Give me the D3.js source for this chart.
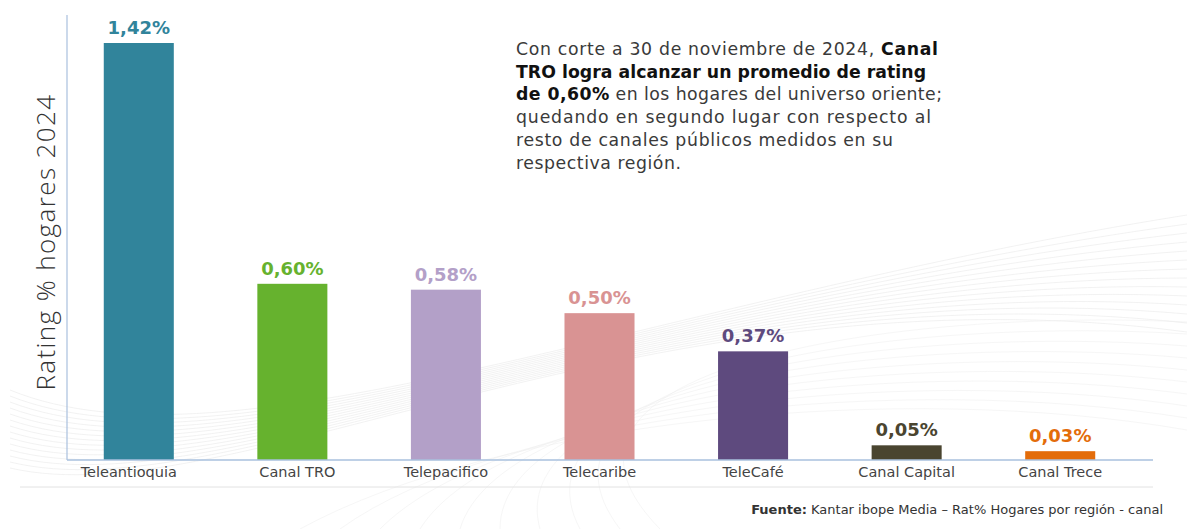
<!DOCTYPE html>
<html>
<head>
<meta charset="utf-8">
<script src="https://cdn.jsdelivr.net/npm/d3@7"></script>
<style>
  html, body { margin: 0; padding: 0; background: #fff; }
  svg { display: block; font-family: "DejaVu Sans", "Open Sans", sans-serif; }
</style>
</head>
<body>
<div id="chart"></div>
<script>
// data
const channels = ["Teleantioquia", "Canal TRO", "Telepacifico", "Telecaribe", "TeleCafé", "Canal Capital", "Canal Trece"];
const ratings = [1.42, 0.60, 0.58, 0.50, 0.37, 0.05, 0.03];
const ratingLabels = ["1,42%", "0,60%", "0,58%", "0,50%", "0,37%", "0,05%", "0,03%"];
const barColors = ["#31849b", "#66b22e", "#b3a0c8", "#d99393", "#5e4a7e", "#4a4530", "#e36c0a"];

const noteLines = [
    [["Con corte a 30 de noviembre de 2024, ", false], ["Canal", true]],
    [["TRO logra alcanzar un promedio de rating", true]],
    [["de 0,60%", true], [" en los hogares del universo oriente;", false]],
    [["quedando en segundo lugar con respecto al", false]],
    [["resto de canales públicos medidos en su", false]],
    [["respectiva región.", false]]
];
const noteWidths = [422, 410, 426, 415, 377, 165];

const W = 1187, H = 529;
const baseY = 460, topY = 43;

const svg = d3.select("#chart").append("svg")
    .attr("width", W)
    .attr("height", H);

// faint background swooshes
const bg = svg.append("g").attr("fill", "none").attr("stroke", "#ededed").attr("stroke-width", 1);
for (let i = 0; i < 14; i++) {
    bg.append("path")
        .attr("d", `M${10},${390 + i * 6} C ${230},${480 + i * 3} ${650},${300 - i * 3} ${1187},${215 + i * 9}`)
        .attr("opacity", 0.7);
}
for (let i = 0; i < 10; i++) {
    bg.append("path")
        .attr("d", `M${300 + i * 40},${529} C ${500},${420 - i * 6} ${900},${380 - i * 8} ${1187},${430 - i * 12}`)
        .attr("opacity", 0.5);
}

const x = d3.scaleBand()
    .domain(channels)
    .range([62, 1137])
    .paddingInner(0.544)
    .paddingOuter(0.272);

const y = d3.scaleLinear()
    .domain([0, d3.max(ratings)])
    .range([baseY, topY]);

const data = channels.map((c, i) => ({ name: c, value: ratings[i], label: ratingLabels[i], color: barColors[i] }));

// bars
svg.selectAll(".bar")
    .data(data)
    .enter()
    .append("rect")
    .attr("class", "bar")
    .attr("x", d => x(d.name))
    .attr("y", d => y(d.value))
    .attr("width", x.bandwidth())
    .attr("height", d => baseY - y(d.value))
    .attr("fill", d => d.color);

// value labels
svg.selectAll(".val")
    .data(data)
    .enter()
    .append("text")
    .attr("class", "val")
    .attr("x", d => x(d.name) + x.bandwidth() / 2)
    .attr("y", d => y(d.value) - 9)
    .attr("text-anchor", "middle")
    .attr("font-size", 18)
    .attr("font-weight", 700)
    .attr("fill", d => d.color)
    .text(d => d.label);

// axes lines
svg.append("line")
    .attr("x1", 67).attr("x2", 67)
    .attr("y1", 15).attr("y2", baseY)
    .attr("stroke", "#a9c0de").attr("stroke-width", 1.2);

svg.append("line")
    .attr("x1", 67).attr("x2", 1153)
    .attr("y1", baseY).attr("y2", baseY)
    .attr("stroke", "#a9c0de").attr("stroke-width", 1.5);

// category labels
const xAxis = svg.append("g")
    .attr("transform", `translate(0,${baseY})`)
    .call(d3.axisBottom(x).tickSize(0).tickPadding(7));
xAxis.select(".domain").remove();
xAxis.selectAll("text")
    .attr("font-family", "DejaVu Sans, sans-serif")
    .attr("font-size", 14.5)
    .attr("fill", "#444")
    .attr("dx", (d, i) => i === 0 ? -10 : (i === 1 ? 5 : 0));

// y title
svg.append("text")
    .attr("transform", `translate(55,242) rotate(-90)`)
    .attr("text-anchor", "middle")
    .attr("font-family", "Open Sans, sans-serif")
    .attr("font-size", 26)
    .attr("font-weight", 300)
    .attr("letter-spacing", 1.4)
    .attr("fill", "#333")
    .text("Rating % hogares 2024");

// separator
svg.append("line")
    .attr("x1", 20).attr("x2", 1153)
    .attr("y1", 487).attr("y2", 487)
    .attr("stroke", "#e2e2e2").attr("stroke-width", 1);

// note, one text element per line
noteLines.forEach((line, i) => {
    const t = svg.append("text")
        .attr("x", 516)
        .attr("y", 55 + i * 22.7)
        .attr("font-size", 17.3)
        .attr("textLength", noteWidths[i])
        .attr("lengthAdjust", "spacing");
    line.forEach(([s, b]) => {
        t.append("tspan")
            .attr("font-weight", b ? 700 : 400)
            .attr("fill", b ? "#111" : "#3a3a3a")
            .text(s);
    });
});

// source
const src = svg.append("text")
    .attr("x", 1163)
    .attr("y", 514)
    .attr("text-anchor", "end")
    .attr("font-size", 13)
    .attr("fill", "#333");
src.append("tspan").attr("font-weight", 700).text("Fuente:");
src.append("tspan").text(" Kantar ibope Media – Rat% Hogares por región - canal");
</script>
</body>
</html>
